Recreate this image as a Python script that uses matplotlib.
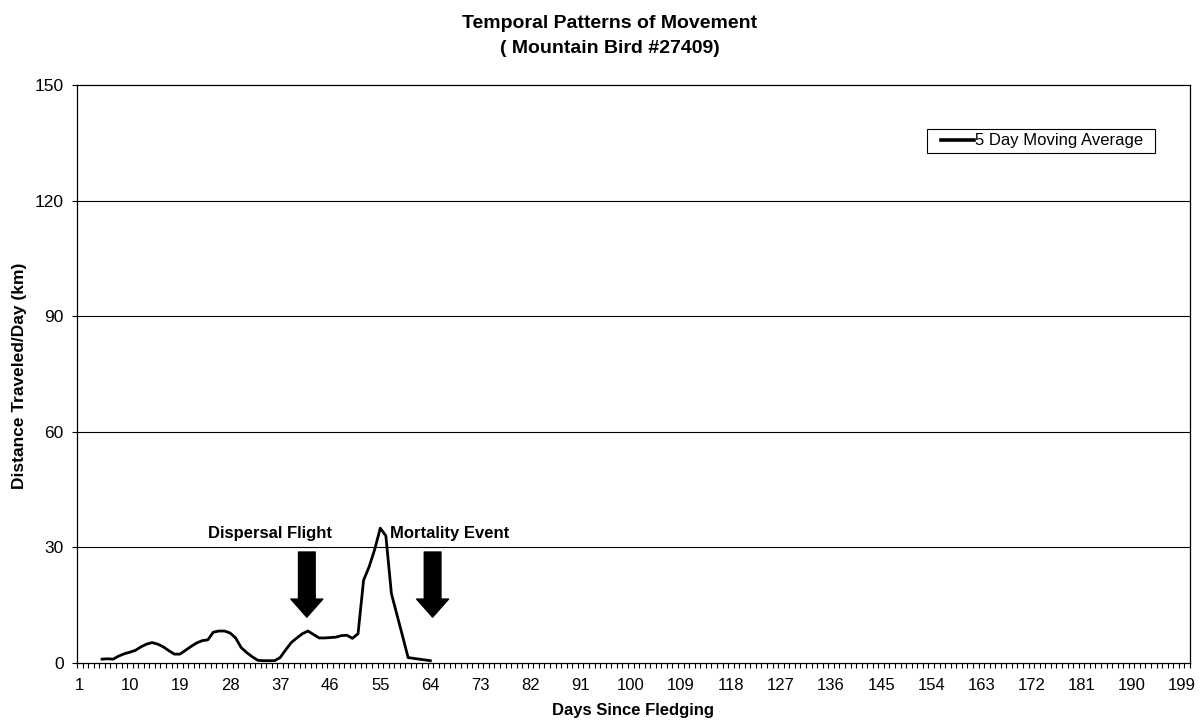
import numpy as np
import matplotlib
matplotlib.use("Agg")
import matplotlib.pyplot as plt
from matplotlib.patches import FancyArrowPatch, ArrowStyle, Rectangle

plt.rcParams["font.family"] = ["Liberation Sans", "DejaVu Sans"]

# ---- data
days = list(range(5, 65))
moving_avg = [
    1.0, 1.1, 1.0, 1.8, 2.4, 2.8, 3.3, 4.2, 4.9, 5.3,   # 5-14
    4.9, 4.2, 3.2, 2.3, 2.3, 3.3, 4.3, 5.2, 5.8, 6.0,   # 15-24
    8.0, 8.3, 8.3, 7.8, 6.5, 4.0, 2.7, 1.6, 0.7, 0.6,   # 25-34
    0.6, 0.6, 1.4, 3.4, 5.3, 6.5, 7.6, 8.3, 7.4, 6.5,   # 35-44
    6.5, 6.6, 6.7, 7.1, 7.2, 6.4, 7.6, 21.5, 25.0, 29.5,  # 45-54
    35.0, 33.0, 18.0, 12.5, 7.0, 1.4, 1.2, 1.0, 0.8, 0.6,  # 55-64
]
n_categories = 200
tick_days = list(range(1, 200, 9))
y_ticks = [0, 30, 60, 90, 120, 150]

# annotations: (label, day of arrow, day of label centre)
events = [("Dispersal Flight", 41.8, 35.2), ("Mortality Event", 64.4, 67.5)]

W, H = 1200, 725
fig = plt.figure(figsize=(W / 100, H / 100), dpi=100)
ax = fig.add_axes([77 / W, 1 - 663 / H, 1113 / W, 578 / H])

ax.plot(days, moving_avg, color="black", linewidth=2.0, label="5 Day Moving Average",
        solid_joinstyle="round", zorder=3)

# ---- axes
ax.set_xlim(0.5, n_categories + 0.5)
ax.set_ylim(0, 150)
ax.set_yticks(y_ticks)
ax.set_xticks(tick_days)
ax.set_xticks(np.arange(0.5, n_categories + 1, 1), minor=True)
ax.tick_params(axis="x", which="major", length=0, pad=11, labelsize=12)
ax.tick_params(axis="x", which="minor", length=3.5, width=0.8, direction="out")
ax.tick_params(axis="y", which="major", length=3.6, width=0.8, direction="out", labelsize=12.5, pad=6)
for s in ax.spines.values():
    s.set_linewidth(0.9)
    s.set_color("black")
for y in y_ticks[1:-1]:
    ax.axhline(y, color="black", linewidth=0.8, zorder=1)

fig.text(633 / W, 1 - 711 / H, "Days Since Fledging", ha="center", va="center",
         fontsize=12, fontweight="bold")
fig.text(20 / W, 1 - 376 / H, "Distance Traveled/Day (km)", ha="center", va="center",
         rotation=90, fontsize=12.5, fontweight="bold")

fig.text(610 / W, 1 - 28 / H, "Temporal Patterns of Movement", ha="center", va="baseline",
         fontsize=14, fontweight="bold")
fig.text(610 / W, 1 - 53 / H, "( Mountain Bird #27409)", ha="center", va="baseline",
         fontsize=14, fontweight="bold")

# ---- event arrows
style = ArrowStyle.Simple(head_length=13, head_width=23, tail_width=12)
for label, arrow_day, text_day in events:
    ax.add_patch(FancyArrowPatch((arrow_day, 28.8), (arrow_day, 11.9), arrowstyle=style,
                                 mutation_scale=1, color="black", shrinkA=0, shrinkB=0, zorder=4))
    ax.text(text_day, 33.7, label, ha="center", va="center", fontsize=12, fontweight="bold")

# ---- legend (frame drawn separately to get the wide Excel-style box)
leg = ax.legend(loc="center left", bbox_to_anchor=(941 / W, 1 - 141 / H),
                bbox_transform=fig.transFigure, fontsize=12, frameon=False,
                handlelength=2.0, handletextpad=0.05, borderpad=0, borderaxespad=0)
leg.get_lines()[0].set_linewidth(2.6)
fig.patches.append(Rectangle((927 / W, 1 - 153 / H), 228 / W, 24 / H, transform=fig.transFigure,
                             facecolor="none", edgecolor="black", linewidth=0.8))

fig.savefig("out.png", dpi=100)
